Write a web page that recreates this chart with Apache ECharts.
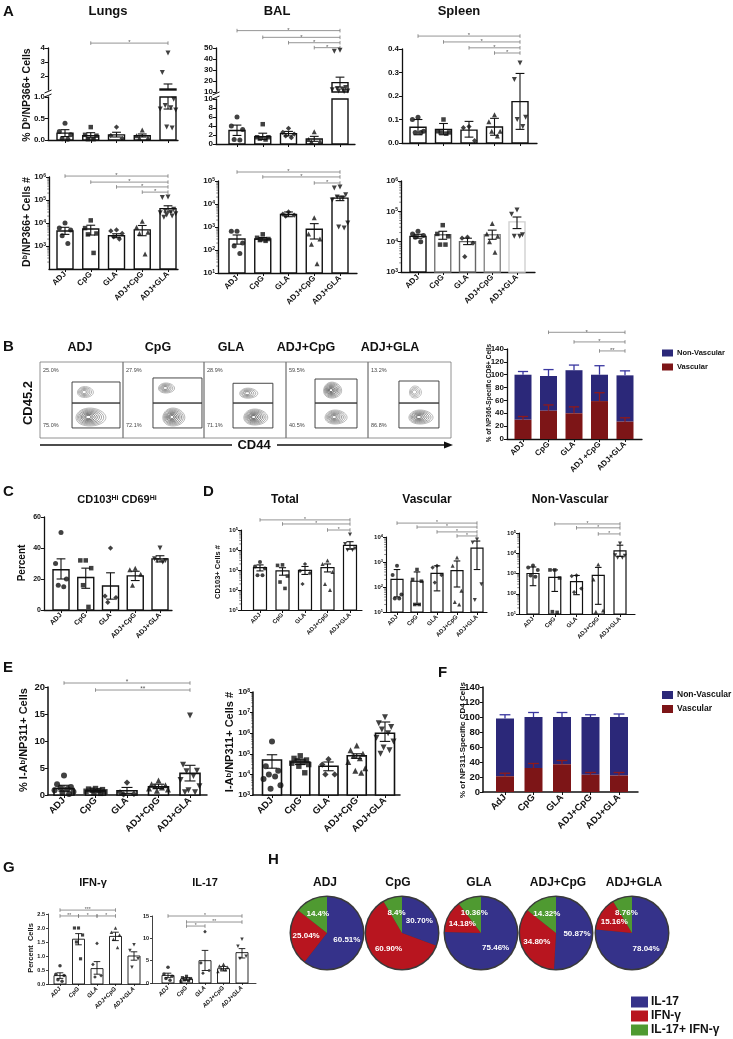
<!DOCTYPE html>
<html><head><meta charset="utf-8">
<script src="https://cdn.jsdelivr.net/npm/echarts@6/dist/echarts.min.js"></script>
<style>html,body{margin:0;padding:0;background:#fff}#main{width:733px;height:1039px}</style>
</head><body><div id="main"></div>
<script>
// ---------------- DATA ----------------
const cats = ['ADJ','CpG','GLA','ADJ+CpG','ADJ+GLA'];
const catsB = ['ADJ','CpG','GLA','ADJ +CpG','ADJ+GLA'];
const catsF = ['AdJ','CpG','GLA','ADJ+CpG','ADJ+GLA'];

// A – % Db/NP366+ cells
const lungsPctMean = [0.16, 0.10, 0.12, 0.10, 1.07];
const lungsPctErr = [[0.08,0.24],[0.05,0.17],[0.07,0.18],[0.07,0.14],[0.72,1.43]];
const lungsPctPts = [[0.39,0.2,0.12,0.03,0.02],[0.3,0.12,0.1,0.02,0.02],[0.3,0.1,0.04],[0.23,0.1,0.05,0.04],[3.65,2.25,0.95,0.8,0.75,0.72,0.7,0.3,0.28]];
const lungsPctSig = [[1,4,4.35,'*']];
const balPctMean = [3.0, 1.6, 2.3, 1.1, 18.5];
const balPctErr = [[1.9,4.2],[1.0,2.4],[1.8,2.8],[0.6,1.7],[14.5,23.5]];
const balPctPts = [[6,4,3.2,1,0.9],[4.4,1.5,1.5,1.2,1.0],[3.5,2.6,2.2,1.8,1.4],[2.7,1.0,0.6,0.5],[48,47,14,13,12,12,11,11,10.5]];
const balPctSig = [[0,4,65.8,'*'],[1,4,59.7,'*'],[2,4,54.8,'*'],[3,4,50.3,'*']];
const splPctMean = [0.067, 0.058, 0.055, 0.068, 0.176];
const splPctErr = [[0.035,0.1],[0.035,0.083],[0.025,0.092],[0.033,0.105],[0.058,0.296]];
const splPctPts = [[0.11,0.1,0.05,0.045,0.045],[0.1,0.05,0.045,0.045,0.04],[0.07,0.065,0.01],[0.12,0.09,0.05,0.05,0.03],[0.34,0.27,0.11,0.1,0.07]];
const splPctSig = [[0,4,0.455,'*'],[1,4,0.43,'*'],[2,4,0.405,'*'],[3,4,0.383,'*']];

// A – Db/NP366+ cells #
const lungsNumMean = [4500, 5500, 2800, 5000, 42000];
const lungsNumErr = [[3200,6500],[3000,8000],[2300,3400],[2800,7800],[30000,56000]];
const lungsNumPts = [[10000,6000,5000,2800,1300],[13000,6000,3500,3200,500],[5000,4500,3500,2500,2000],[12000,6500,4000,3500,450],[135000,130000,40000,35000,30000,28000,25000,22000,20000,18000]];
const lungsNumSig = [[0,4,1.1e6,'*'],[1,4,6e5,'*'],[2,4,3.7e5,'*'],[3,4,2.2e5,'*']];
const balNumMean = [300, 300, 3500, 800, 18000];
const balNumErr = [[180,450],[250,350],[2800,4500],[300,1400],[14000,22000]];
const balNumPts = [[650,650,200,150,70],[480,340,300,270,250],[4500,3600,3300,3000],[2500,500,300,180,25],[55000,50000,25000,20000,18000,15000,1500,1000,900]];
const balNumSig = [[0,4,2.46e5,'*'],[1,4,1.5e5,'*'],[3,4,8.2e4,'*']];
const splNumMean = [15000, 17000, 10000, 17000, 45000];
const splNumErr = [[13000,17500],[12000,22000],[8000,13000],[12000,24000],[27000,65000]];
const splNumPts = [[22000,18000,16000,14000,10000],[35000,18000,15000,8000,8000],[14000,13000,9000,3200],[40000,18000,15000,10000,4500],[110000,80000,17000,15000,15000]];

// B – flow plots
const flowNames = ['ADJ','CpG','GLA','ADJ+CpG','ADJ+GLA'];
const flowTopPct = ['25.0%','27.9%','28.9%','59.5%','13.2%'];
const flowBotPct = ['75.0%','72.1%','71.1%','40.5%','86.8%'];
const flowGateUp = [[38.6,46,96.4,73.7],[37,46,97.5,79],[35.4,46,84,72],[35.4,46,86.6,77.6],[37.3,46,85.5,75]];
const flowGateLow = [[38.6,13.2,96.4,46],[37,13.2,97.5,46],[35.4,13.2,84,46],[35.4,13.2,86.6,46],[37.3,13.2,85.5,46]];
const flowBlobUp = [[54,60.5,9.6,7.2,5,0.45],[53,65.8,9.9,6.6,5,0.6],[53.7,59,11,6.6,5,0.55],[56,63,11,10.5,8,0.95],[56.6,60.5,7.2,7.9,4,0.3]];
const flowBlobLow = [[60,27.6,18,11.8,8,0.9],[61.7,27.6,13.6,11.8,8,0.95],[62,27.6,14.6,10.5,8,0.95],[60,27.6,13.4,9.2,7,0.7],[62.7,27.6,14.5,9.2,7,0.85]];
// B – stacked %
const bVascMean = [30, 44, 40, 59, 27];
const bVascErr = [5, 9, 10, 13, 6];
const bNonVascMean = [70, 54, 67, 41, 72];
const bNonVascErr = [5, 10, 8, 14, 7];
const bSig = [[1,4,166,'*'],[2,4,151,'*'],[3,4,137,'**']];

// C
const cMean = [26, 21, 15.5, 22, 33];
const cErr = [[20,33],[14,27],[7,24],[19,25],[31,35]];
const cPts = [[50,30,20,16,15],[32,32,27,16,2],[40,9,8,5],[27,26,23,16],[40,33,32,32,31]];

// D
const dTotMean = [1300, 900, 950, 1300, 17000];
const dTotErr = [[900,1800],[550,1300],[600,1500],[800,2000],[11000,26000]];
const dTotPts = [[2500,1500,1200,550,550],[1800,1700,500,250,120],[2000,900,700,200],[3000,2000,800,200,100],[60000,20000,12000,10000,10000]];
const dTotSig = [[0,4,3.2e5,'*'],[1,4,2e5,'*'],[3,4,1e5,'*']];
const dVasMean = [200, 170, 350, 450, 3600];
const dVasErr = [[40,500],[20,400],[70,700],[100,1100],[500,6900]];
const dVasPts = [[700,300,50,35,35],[500,200,170,20,20],[700,600,300,150],[1500,700,70,25,20],[8000,6000,130,30]];
const dVasSig = [[0,4,3.6e4,'*'],[1,4,2.5e4,'*'],[2,4,1.6e4,'*'],[3,4,1.1e4,'*']];
const dNonMean = [1000, 650, 400, 800, 13000];
const dNonErr = [[250,2100],[130,1500],[90,800],[30,2000],[7000,25000]];
const dNonPts = [[2500,2000,1500,800,700],[1500,1500,600,13,12],[800,750,180,120],[2800,500,15,13],[30000,8000,7500,6000,6000]];
const dNonSig = [[1,4,2.8e5,'*'],[2,4,1.8e5,'*'],[3,4,9e4,'*']];

// E
const ePctMean = [1.2, 0.8, 0.8, 1.5, 4.0];
const ePctErr = [[0.7,1.8],[0.6,1.1],[0.3,1.4],[1.2,2.0],[2.6,5.5]];
const ePctPts = [[3.6,2.0,1.5,1.3,1.1,0.9,0.6,0.4,0.2],[1.2,1.1,1.0,0.9,0.8,0.7,0.6,0.4,0.3],[2.3,0.5,0.2,0.1],[2.7,2.0,1.8,1.6,1.4,1.2,1.0,0.8],[14.7,5.6,4.5,4.4,3.5,2.8,1.6,0.9,0.5,0.5]];
const ePctSig = [[0,4,20.74,'*'],[1,4,19.44,'**']];
const eNumMean = [50000, 40000, 25000, 80000, 1000000];
const eNumErr = [[20000,90000],[30000,55000],[15000,40000],[60000,100000],[400000,3500000]];
const eNumPts = [[400000,25000,15000,10000,8000,6000,3000,2000],[80000,60000,50000,45000,40000,35000,30000,25000,12000],[55000,30000,10000,10000],[250000,150000,100000,80000,60000,40000,20000,15000,12000],[6000000,3000000,2000000,1500000,1000000,600000,400000,200000,150000,100000]];

// F
const fVascMean = [21, 32, 37, 23, 22];
const fVascErr = [4, 6, 5, 3, 4];
const fNonVascMean = [77, 68, 63, 77, 78];
const fNonVascErr = [5, 6, 6, 3, 4];

// G
const gIfnMean = [0.3, 1.6, 0.55, 1.7, 1.0];
const gIfnErr = [[0.2,0.4],[1.4,1.8],[0.35,0.8],[1.55,1.85],[0.85,1.15]];
const gIfnPts = [[0.65,0.35,0.3,0.15,0.1],[2.0,2.0,1.75,1.5,0.9],[1.45,0.7,0.3,0.25],[2.0,1.85,1.75,1.6,1.3],[1.4,1.2,0.9,0.6]];
const gIfnSig = [[0,3,2.64,'***'],[0,1,2.43,'**'],[1,2,2.43,'*'],[2,3,2.43,'*']];
const gIl17Mean = [1.7, 0.9, 5.0, 3.2, 6.8];
const gIl17Err = [[1.2,2.2],[0.6,1.2],[2.8,7.3],[2.7,3.7],[5.6,7.7]];
const gIl17Pts = [[3.5,2.0,1.5,1.0,0.6],[1.5,1.2,1.0,0.7,0.5,0.3],[11.5,4.5,2.8,2.2],[4.2,3.8,3.5,3.2,3.0,2.6],[9.8,8.2,6.0,5.5]];
const gIl17Sig = [[0,4,15.0,'*'],[1,4,13.65,'**'],[1,2,12.75,'*']];

// H
const pieNames = ['ADJ','CpG','GLA','ADJ+CpG','ADJ+GLA'];
const pieIL17 = ['60.51','30.70','75.46','50.87','78.04'];
const pieIFNG = ['25.04','60.90','14.18','34.80','15.16'];
const pieBoth = ['14.4','8.4','10.36','14.32','8.76'];

// ---------------- LAYOUT / BUILDERS ----------------
const F = 'Liberation Sans, Arial, Helvetica, sans-serif';
const FN = 'Liberation Sans Narrow, Arial Narrow, Liberation Sans, sans-serif';
const NAVY = '#2b2879', RED = '#7d1517';
const PB = '#35328a', PR = '#b8151f', PG = '#4f9a31';
const SYM = ['circle','rect','diamond','triangle','triangle'];
const ROT = [0,0,0,0,180];
const JIT = [0,-0.22,0.22,-0.11,0.11,-0.3,0.3,-0.05,0.16,-0.16];
const grids=[], xAxis=[], yAxis=[], series=[], els=[];

function panel(o){
  const [l,t,r,b]=o.box, g=grids.length;
  grids.push({left:l, top:t, width:r-l, height:b-t, show:false, outerBoundsMode:'none', containLabel:false});
  const u=(o.c4-o.c0)/4, xmin=(l-o.c0)/u, xmax=(r-o.c0)/u;
  const showX=o.showX!==false, lw=o.lw||1.3, names=o.names||cats;
  xAxis.push({gridIndex:g, type:'value', min:xmin, max:xmax, splitLine:{show:false},
    axisLine:{show:showX, onZero:false, lineStyle:{color:'#111', width:lw}},
    axisTick:{show:showX, customValues:[0,1,2,3,4], length:o.tick||3, lineStyle:{color:'#111', width:Math.min(lw,1)}},
    axisLabel:{show:!!o.xFont, customValues:[0,1,2,3,4], formatter:v=>names[Math.round(v)]||'', rotate:45,
      fontSize:o.xFont||8, fontWeight:'bold', fontFamily:F, fontStyle:o.xItalic?'italic':'normal', color:'#111', margin:o.xMargin||4}});
  const y={gridIndex:g, type:o.yType||'value', min:o.ymin, max:o.ymax, splitLine:{show:false},
    axisLine:{show:true, onZero:false, lineStyle:{color:'#111', width:lw}},
    axisTick:{show:true, length:o.tick||3, lineStyle:{color:'#111', width:Math.min(lw,1)}},
    axisLabel:{fontSize:o.yFont||8, fontWeight:'bold', fontFamily:F, color:'#111', margin:o.yMargin||3, showMinLabel:o.hideMin?false:null}};
  if(o.yType==='log'){
    y.logBase=10;
    y.axisLabel.formatter=v=>'10{s|'+Math.round(Math.log10(v))+'}';
    y.axisLabel.rich={s:{fontSize:Math.max(4,Math.round((o.yFont||8)*0.65)), fontWeight:'bold', fontFamily:F, color:'#111', verticalAlign:'top'}};
  } else { y.interval=o.yInt; if(o.yFmt) y.axisLabel.formatter=o.yFmt; }
  yAxis.push(y);
  return {xi:xAxis.length-1, yi:yAxis.length-1, xmin, o};
}
function cs(ax, data, render, z){
  series.push({type:'custom', coordinateSystem:'cartesian2d', xAxisIndex:ax.xi, yAxisIndex:ax.yi, data, renderItem:render, silent:true, z:z||3, animation:false});
}
function bars(ax, mean, lo, hi, stroke){
  const bw=ax.o.bw, lw=ax.o.blw||1.4, d=[];
  mean.forEach((v,i)=>{ if(v>lo) d.push([i, Math.min(v,hi), lo]); });
  cs(ax, d, (p,api)=>{ const i=api.value(0); const a=api.coord([i,api.value(1)]), c=api.coord([i,api.value(2)]);
    return {type:'rect', shape:{x:a[0]-bw/2, y:a[1], width:bw, height:c[1]-a[1]},
      style:{fill:'#fff', stroke:Array.isArray(stroke)?stroke[i]:(stroke||'#111'), lineWidth:lw}}; }, 2);
}
function errs(ax, err, lo, hi){
  const cap=ax.o.cap||ax.o.bw*0.55, elw=ax.o.elw||1.1, d=[];
  err.forEach((e,i)=>{ const a=Math.max(e[0],lo), b=Math.min(e[1],hi); if(b>a) d.push([i,a,b,e[0]>=lo?1:0,e[1]<=hi?1:0]); });
  cs(ax, d, (p,api)=>{ const i=api.value(0); const A=api.coord([i,api.value(1)]), B=api.coord([i,api.value(2)]);
    const st={stroke:'#111', lineWidth:elw};
    const ch=[{type:'line', shape:{x1:A[0],y1:A[1],x2:B[0],y2:B[1]}, style:st}];
    if(api.value(3)) ch.push({type:'line', shape:{x1:A[0]-cap/2,y1:A[1],x2:A[0]+cap/2,y2:A[1]}, style:st});
    if(api.value(4)) ch.push({type:'line', shape:{x1:B[0]-cap/2,y1:B[1],x2:B[0]+cap/2,y2:B[1]}, style:st});
    return {type:'group', children:ch}; }, 3);
}
function pts(ax, P, lo, hi){
  const sz=ax.o.ps||5, sp=ax.o.spread||1;
  P.forEach((arr,i)=>{ const d=[];
    arr.forEach((v,k)=>{ if(v>=lo && v<=hi) d.push([i+JIT[k%JIT.length]*sp, v]); });
    if(!d.length) return;
    series.push({type:'scatter', xAxisIndex:ax.xi, yAxisIndex:ax.yi, data:d, symbol:SYM[i], symbolRotate:ROT[i],
      symbolSize: i===1?sz*0.9:(i===2?sz*1.05:sz), itemStyle:{color:'#111'}, silent:true, z:4, animation:false});
  });
}
function sig(ax, S){
  const fs=ax.o.sfs||6;
  cs(ax, S.map(s=>[s[0],s[1],s[2]]), (p,api)=>{
    const A=api.coord([api.value(0),api.value(2)]), B=api.coord([api.value(1),api.value(2)]);
    const st={stroke:'#7a7a7a', lineWidth:0.8}, th=1.8;
    return {type:'group', children:[
      {type:'line', shape:{x1:A[0],y1:A[1],x2:B[0],y2:B[1]}, style:st},
      {type:'line', shape:{x1:A[0],y1:A[1]-th,x2:A[0],y2:A[1]+th}, style:st},
      {type:'line', shape:{x1:B[0],y1:B[1]-th,x2:B[0],y2:B[1]+th}, style:st},
      {type:'text', style:{text:S[p.dataIndex][3], x:(A[0]+B[0])/2, y:A[1]+fs*0.45, fill:'#555', fontSize:fs, fontFamily:F,
        align:'center', textAlign:'center', verticalAlign:'bottom', textVerticalAlign:'bottom'}}
    ]}; }, 3);
}
function minor(ax, e0, e1){
  const d=[]; for(let e=e0;e<e1;e++) for(let k=2;k<=9;k++) d.push([ax.xmin, k*Math.pow(10,e)]);
  cs(ax, d, (p,api)=>{ const c=api.coord([api.value(0),api.value(1)]);
    return {type:'line', shape:{x1:c[0]-1.8,y1:c[1],x2:c[0],y2:c[1]}, style:{stroke:'#111', lineWidth:0.5}}; }, 1);
}
function stack(ax, vasc, vErr, nonv, nErr){
  const bw=ax.o.bw, cap=ax.o.cap||bw*0.6;
  cs(ax, vasc.map((v,i)=>[i, v, v+nonv[i], vErr[i], nErr[i]]), (p,api)=>{
    const i=api.value(0), v=api.value(1), t=api.value(2), ve=api.value(3), ne=api.value(4);
    const P0=api.coord([i,0]), Pv=api.coord([i,v]), Pt=api.coord([i,t]), Pve=api.coord([i,v+ve]), Pne=api.coord([i,t+ne]);
    const x=P0[0], sn={stroke:'#3a37a0', lineWidth:1.3}, sr={stroke:'#8e1a1c', lineWidth:1.3};
    return {type:'group', children:[
      {type:'rect', shape:{x:x-bw/2, y:Pt[1], width:bw, height:Pv[1]-Pt[1]}, style:{fill:NAVY}},
      {type:'rect', shape:{x:x-bw/2, y:Pv[1], width:bw, height:P0[1]-Pv[1]}, style:{fill:RED}},
      {type:'line', shape:{x1:x,y1:Pt[1],x2:x,y2:Pne[1]}, style:sn},
      {type:'line', shape:{x1:x-cap/2,y1:Pne[1],x2:x+cap/2,y2:Pne[1]}, style:sn},
      {type:'line', shape:{x1:x,y1:Pv[1],x2:x,y2:Pve[1]}, style:sr},
      {type:'line', shape:{x1:x-cap/2,y1:Pve[1],x2:x+cap/2,y2:Pve[1]}, style:sr}
    ]}; }, 2);
}
function txt(x, y, text, size, o){
  o=o||{};
  els.push({type:'text', x, y, rotation:o.rot||0, silent:true, z:10,
    style:{text, fontSize:size, fontWeight:o.w||'bold', fontFamily:o.f||F, fill:o.c||'#111',
      align:o.a||'center', textAlign:o.a||'center', verticalAlign:'middle', textVerticalAlign:'middle', rich:o.rich}});
}
function rect(x,y,w,h,fill){ els.push({type:'rect', shape:{x,y,width:w,height:h}, style:{fill}, silent:true}); }
function gline(x1,y1,x2,y2,w,c){ els.push({type:'line', shape:{x1,y1,x2,y2}, style:{stroke:c||'#111', lineWidth:w||1}, silent:true, z:10}); }
const supR = s => ({s:{fontSize:s, fontWeight:'bold', fontFamily:F, fill:'#111', color:'#111', verticalAlign:'top'}});

let ax;
// ===== A top (broken axes) =====
ax = panel({box:[48,48,178,90], c0:65, c4:168, ymin:1, ymax:4, yInt:1, hideMin:true, showX:false, yFont:8, bw:16});
bars(ax, lungsPctMean, 1, 4); errs(ax, lungsPctErr, 1, 4); pts(ax, lungsPctPts, 1, 4); sig(ax, lungsPctSig);
ax = panel({box:[48,97,178,140], c0:65, c4:168, ymin:0, ymax:1, yInt:0.5, yFmt:v=>v.toFixed(1), yFont:8, bw:16});
bars(ax, lungsPctMean, 0, 1); errs(ax, lungsPctErr, 0, 1); pts(ax, lungsPctPts, 0, 0.999);

ax = panel({box:[216,48,355,92], c0:237, c4:340, ymin:10, ymax:50, yInt:10, showX:false, yFont:8, bw:16});
bars(ax, balPctMean, 10, 50); errs(ax, balPctErr, 10, 50); pts(ax, balPctPts, 10, 50); sig(ax, balPctSig);
ax = panel({box:[216,99,355,144], c0:237, c4:340, ymin:0, ymax:10, yInt:2, yFont:8, bw:16});
bars(ax, balPctMean, 0, 10); errs(ax, balPctErr, 0, 10); pts(ax, balPctPts, 0, 9.99);

ax = panel({box:[402,49,537,143], c0:418, c4:520, ymin:0, ymax:0.4, yInt:0.1, yFmt:v=>v.toFixed(1), yFont:8, bw:16});
bars(ax, splPctMean, 0, 0.4); errs(ax, splPctErr, 0, 0.4); pts(ax, splPctPts, 0, 0.4); sig(ax, splPctSig);

// ===== A bottom (log) =====
ax = panel({box:[49,177,178,269], c0:65, c4:168, yType:'log', ymin:1e2, ymax:1e6, hideMin:true, xFont:8, yFont:8, bw:16});
minor(ax,2,6); bars(ax, lungsNumMean, 1e2, 1e6); errs(ax, lungsNumErr, 1e2, 1e6); pts(ax, lungsNumPts, 1e2, 1e6); sig(ax, lungsNumSig);
ax = panel({box:[218,181,357,273], c0:237, c4:340, yType:'log', ymin:1e1, ymax:1e5, xFont:8, yFont:8, bw:16});
minor(ax,1,5); bars(ax, balNumMean, 1e1, 1e5); errs(ax, balNumErr, 1e1, 1e5); pts(ax, balNumPts, 1e1, 1e5); sig(ax, balNumSig);
ax = panel({box:[401,181,535,272], c0:418, c4:517, yType:'log', ymin:1e3, ymax:1e6, xFont:8, yFont:8, bw:16});
minor(ax,3,6); bars(ax, splNumMean, 1e3, 1e6, ['#111','#777','#666','#888','#d0d0d0']); errs(ax, splNumErr, 1e3, 1e6); pts(ax, splNumPts, 1e3, 1e6);

// ===== B flow =====
const fbx = [[40,123],[123,204],[204,286],[286,368],[368,451]];
const titleX = [80,158,231,306,390];
fbx.forEach((bx,i)=>{
  const g=grids.length;
  grids.push({left:bx[0], top:362, width:bx[1]-bx[0], height:76, show:true, borderColor:'#777', borderWidth:0.8, backgroundColor:'transparent', outerBoundsMode:'none'});
  xAxis.push({gridIndex:g, type:'value', min:0, max:100, show:false});
  yAxis.push({gridIndex:g, type:'value', min:0, max:100, show:false});
  const a={xi:xAxis.length-1, yi:yAxis.length-1};
  cs(a, [flowGateUp[i], flowGateLow[i]], (p,api)=>{
    const A=api.coord([api.value(0),api.value(3)]), B=api.coord([api.value(2),api.value(1)]);
    return {type:'rect', shape:{x:A[0],y:A[1],width:B[0]-A[0],height:B[1]-A[1]}, style:{fill:'none', stroke:'#333', lineWidth:0.9}}; }, 3);
  cs(a, [flowBlobUp[i], flowBlobLow[i]], (p,api)=>{
    const c=api.coord([api.value(0),api.value(1)]), s=api.size([api.value(2),api.value(3)]);
    const n=api.value(4), tone=api.value(5), ch=[];
    for(let j=0;j<n;j++){
      const k=1-j/(n+0.6), gv=Math.round(175-tone*165*(j+1)/n), P=[];
      for(let q=0;q<30;q++){ const t=q/30*Math.PI*2; const w=1+0.1*Math.sin(t+0.9)*(1-j/n);
        P.push([c[0]-0.12*s[0]*(1-k)+s[0]*k*Math.cos(t)*w, c[1]+s[1]*k*Math.sin(t)]); }
      ch.push({type:'polygon', shape:{points:P}, style:{fill:'none', stroke:'rgb('+gv+','+gv+','+gv+')', lineWidth:0.7}});
    }
    return {type:'group', children:ch}; }, 2);
  txt(titleX[i], 348, flowNames[i], 12.5);
  txt(bx[0]+3, 370, flowTopPct[i], 5.5, {a:'left', w:'normal', c:'#444'});
  txt(bx[0]+3, 425, flowBotPct[i], 5.5, {a:'left', w:'normal', c:'#444'});
});
ax = panel({box:[507,349,642,439], c0:523, c4:625, ymin:0, ymax:140, yInt:20, names:catsB, xFont:8, yFont:8, bw:17});
stack(ax, bVascMean, bVascErr, bNonVascMean, bNonVascErr); sig(ax, bSig);

// ===== C =====
ax = panel({box:[44,517,172,610], c0:61, c4:160, ymin:0, ymax:60, yInt:20, xFont:7, yFont:7, bw:16, ps:5});
bars(ax, cMean, 0, 60); errs(ax, cErr, 0, 60); pts(ax, cPts, 0, 60);

// ===== D =====
ax = panel({box:[241,530,362,610], c0:260, c4:350, yType:'log', ymin:1e1, ymax:1e5, xFont:6, yFont:6, bw:13, ps:4, lw:1.1, blw:1.2, sfs:5});
minor(ax,1,5); bars(ax, dTotMean, 1e1, 1e5); errs(ax, dTotErr, 1e1, 1e5); pts(ax, dTotPts, 1e1, 1e5); sig(ax, dTotSig);
ax = panel({box:[386,537,487,612], c0:397, c4:477, yType:'log', ymin:1e1, ymax:1e4, xFont:6, yFont:6, bw:12, ps:4, lw:1.1, blw:1.2, sfs:5});
minor(ax,1,4); bars(ax, dVasMean, 1e1, 1e4); errs(ax, dVasErr, 1e1, 1e4); pts(ax, dVasPts, 1e1, 1e4); sig(ax, dVasSig);
ax = panel({box:[519,533,635,614], c0:533, c4:620, yType:'log', ymin:1e1, ymax:1e5, xFont:6, yFont:6, bw:12, ps:4, lw:1.1, blw:1.2, sfs:5});
minor(ax,1,5); bars(ax, dNonMean, 1e1, 1e5); errs(ax, dNonErr, 1e1, 1e5); pts(ax, dNonPts, 1e1, 1e5); sig(ax, dNonSig);

// ===== E =====
ax = panel({box:[48,687,207,795], c0:64, c4:190, ymin:0, ymax:20, yInt:5, xFont:9.5, yFont:9.5, bw:20, ps:6, lw:1.5, blw:1.6, sfs:6.5});
bars(ax, ePctMean, 0, 20); errs(ax, ePctErr, 0, 20); pts(ax, ePctPts, 0, 20); sig(ax, ePctSig);
ax = panel({box:[253,692,400,795], c0:272, c4:385, yType:'log', ymin:1e3, ymax:1e8, xFont:9.5, yFont:8, bw:19, ps:6, lw:1.5, blw:1.6});
minor(ax,3,8); bars(ax, eNumMean, 1e3, 1e8); errs(ax, eNumErr, 1e3, 1e8); pts(ax, eNumPts, 1e3, 1e8);

// ===== F =====
ax = panel({box:[483,687,638,792], c0:505, c4:619, ymin:0, ymax:140, yInt:20, names:catsF, xFont:9.5, yFont:9.5, bw:18, lw:1.5});
stack(ax, fVascMean, fVascErr, fNonVascMean, fNonVascErr);

// ===== G =====
ax = panel({box:[48,914,148,984], c0:60, c4:134, ymin:0, ymax:2.5, yInt:0.5, yFmt:v=>v.toFixed(1), xFont:6, xItalic:true, yFont:5.5, bw:12, ps:3.5, lw:0.8, blw:0.9, elw:0.9, tick:2, sfs:5});
bars(ax, gIfnMean, 0, 2.5); errs(ax, gIfnErr, 0, 2.5); pts(ax, gIfnPts, 0, 2.5); sig(ax, gIfnSig);
ax = panel({box:[152,916,256,983], c0:168, c4:242, ymin:0, ymax:15, yInt:5, xFont:6, xItalic:true, yFont:5.5, bw:12, ps:3.5, lw:0.8, blw:0.9, elw:0.9, tick:2, sfs:5});
bars(ax, gIl17Mean, 0, 15); errs(ax, gIl17Err, 0, 15); pts(ax, gIl17Pts, 0, 15); sig(ax, gIl17Sig);

// ===== H pies =====
const pieCX = [327,402,481,556,632], pieTX = [325,398,479,558,634];
pieNames.forEach((nm,i)=>{
  series.push({type:'pie', center:[pieCX[i],933], radius:37.5, silent:true, z:1, label:{show:false}, labelLine:{show:false}, animation:false,
    itemStyle:{borderWidth:0}, data:[{value:1, itemStyle:{color:'#3a3a3a'}}]});
  series.push({type:'pie', center:[pieCX[i],933], radius:36, startAngle:90, clockwise:true, silent:true, z:2, avoidLabelOverlap:false, animation:false,
    labelLine:{show:false}, itemStyle:{borderWidth:0},
    label:{show:true, position:'inside', color:'#fff', fontSize:8, fontWeight:'bold', fontFamily:F, textBorderWidth:0, formatter:p=>p.data.lbl+'%'},
    data:[{value:+pieIL17[i], lbl:pieIL17[i], itemStyle:{color:PB}},
          {value:+pieIFNG[i], lbl:pieIFNG[i], itemStyle:{color:PR}},
          {value:+pieBoth[i], lbl:pieBoth[i], itemStyle:{color:PG}}]});
  txt(pieTX[i], 883, nm, 12);
});

// ===== texts & decorations =====
txt(3,12,'A',15,{a:'left'}); txt(3,347,'B',15,{a:'left'}); txt(3,492,'C',15,{a:'left'}); txt(203,492,'D',15,{a:'left'});
txt(3,668,'E',15,{a:'left'}); txt(438,673,'F',15,{a:'left'}); txt(3,868,'G',15,{a:'left'}); txt(268,860,'H',15,{a:'left'});
txt(108,11,'Lungs',13); txt(277,11,'BAL',13); txt(459,11,'Spleen',13);
txt(27,95,'% D{s|b}/NP366+ Cells',10.5,{rot:Math.PI/2, rich:supR(7)});
txt(27,222,'D{s|b}/NP366+ Cells #',10.5,{rot:Math.PI/2, rich:supR(7)});
// axis breaks
[[48,93.5],[216,95.5]].forEach(p=>{ els.push({type:'rect', shape:{x:p[0]-4,y:p[1]-2.5,width:8,height:5}, style:{fill:'#fff'}, silent:true, z:9});
  gline(p[0]-3.5,p[1]-0.5,p[0]+3.5,p[1]-3.5,1); gline(p[0]-3.5,p[1]+3.5,p[0]+3.5,p[1]+0.5,1); });
txt(28,403,'CD45.2',13,{rot:Math.PI/2});
txt(254,445,'CD44',13);
gline(40,445,232,445,1.6); gline(277,445,446,445,1.6);
els.push({type:'polygon', shape:{points:[[453,445],[444,441.5],[444,448.5]]}, style:{fill:'#111'}, silent:true});
txt(489,393,'% of NP366-Specific CD8+ Cells',6.5,{rot:Math.PI/2});
rect(662,349.5,11,7,NAVY); txt(677,353,'Non-Vascular',7.5,{a:'left'});
rect(662,363.5,11,7,RED); txt(677,367,'Vascular',7.5,{a:'left'});
txt(117,500,'CD103{s|Hi} CD69{s|Hi}',11,{rich:supR(7)});
txt(22,563,'Percent',10,{rot:Math.PI/2});
txt(285,500,'Total',12); txt(427,500,'Vascular',12); txt(570,500,'Non-Vascular',12);
txt(218,572,'CD103+ Cells #',7.5,{rot:Math.PI/2});
txt(24,740,'% I-A{s|b}/NP311+ Cells',11,{rot:Math.PI/2, rich:supR(7.5)});
txt(230,742,'I-A{s|b}/NP311+ Cells #',11,{rot:Math.PI/2, rich:supR(7.5)});
txt(463,740,'% of NP311-Specific CD4 Cells',8,{rot:Math.PI/2});
rect(662,691,11,8,NAVY); txt(677,695,'Non-Vascular',8.5,{a:'left'});
rect(662,705,11,8,RED); txt(677,709,'Vascular',8.5,{a:'left'});
txt(93,883,'IFN-γ',11); txt(205,883,'IL-17',11);
txt(31,948,'Percent  Cells',7.5,{rot:Math.PI/2});
rect(631,996.5,17,11,PB); txt(651,1002,'IL-17',12,{a:'left', f:FN});
rect(631,1010.5,17,11,PR); txt(651,1016,'IFN-γ',12,{a:'left', f:FN});
rect(631,1024.5,17,11,PG); txt(651,1030,'IL-17+ IFN-γ',12,{a:'left', f:FN});

const chart = echarts.init(document.getElementById('main'), null, {renderer:'canvas'});
chart.setOption({animation:false, backgroundColor:'#fff', textStyle:{fontFamily:F},
  grid:grids, xAxis, yAxis, series, graphic:{elements:els}});
</script></body></html>
